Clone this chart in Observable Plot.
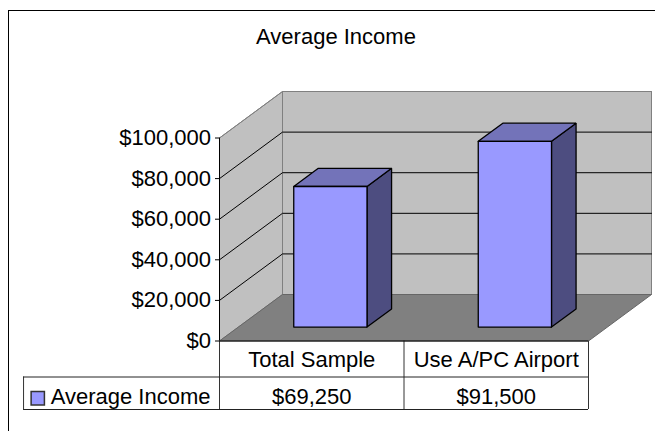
<!DOCTYPE html>
<html><head><meta charset="utf-8">
<script src="https://cdn.jsdelivr.net/npm/d3@7"></script>
<script src="https://cdn.jsdelivr.net/npm/@observablehq/plot@0.6"></script>
<style>
html,body{margin:0;padding:0;background:#fff;}
#wrap{position:relative;width:655px;height:431px;overflow:hidden;font-family:"Liberation Sans",Arial,sans-serif;}
#frame{position:absolute;left:8px;top:10px;width:660px;height:440px;border:1.5px solid #000;box-sizing:content-box;}
#title{position:absolute;left:0;width:672px;top:24px;text-align:center;font-size:22px;color:#000;}
svg{position:absolute;left:0;top:0;overflow:visible;}
</style></head><body>
<div id="wrap"><div id="frame"></div><div id="title">Average Income</div></div>
<script>
const chartTitle = "Average Income";
const categories = ["Total Sample", "Use A/PC Airport"];
const seriesName = "Average Income";
const values = [69250, 91500];
const valueLabels = ["$69,250", "$91,500"];
const yTicks = [0, 20000, 40000, 60000, 80000, 100000];

const depthX = 0.3415, depthY = 22900;      // oblique projection of the depth axis, in data units
const pxToValue = 100000 / 203;             // dollars per pixel below the axis
const project = (u, d, v) => ({x: u + d * depthX, y: v + d * depthY});
const poly = (id, corners) => [...corners, corners[0]].map(([u, d, v]) => ({id, ...project(u, d, v)}));

const nCat = categories.length;
const maxV = yTicks[yTicks.length - 1];
const leftWall = poly("l", [[0,0,0],[0,1,0],[0,1,maxV],[0,0,maxV]]);
const backWall = poly("b", [[0,1,0],[nCat,1,0],[nCat,1,maxV],[0,1,maxV]]);
const floor = poly("f", [[0,0,0],[nCat,0,0],[nCat,1,0],[0,1,0]]);
const grid = yTicks.slice(1).flatMap(v => [[0,0,v],[0,1,v],[nCat,1,v]].map(([u,d,w]) => ({id:v, ...project(u,d,w)})));

const d0 = 0.3, d1 = 0.69, w0 = 0.3, w1 = 0.697;
const fronts = values.flatMap((v,i) => poly("f"+i, [[i+w0,d0,0],[i+w1,d0,0],[i+w1,d0,v],[i+w0,d0,v]]));
const tops = values.flatMap((v,i) => poly("t"+i, [[i+w0,d0,v],[i+w1,d0,v],[i+w1,d1,v],[i+w0,d1,v]]));
const sides = values.flatMap((v,i) => poly("s"+i, [[i+w1,d0,0],[i+w1,d1,0],[i+w1,d1,v],[i+w1,d0,v]]));

const row1 = -36 * pxToValue, row2 = -68.5 * pxToValue;
const tableLeft = -1.062;
const face = (data, fill, stroke, sw=1) => Plot.line(data, {x:"x", y:"y", z:"id", fill, stroke, strokeWidth:sw, strokeLinejoin:"miter"});

const chart = Plot.plot({
  width: 655, height: 431,
  marginLeft: 219, marginRight: 67, marginTop: 137.5, marginBottom: 90.5,
  style: {fontFamily: '"Liberation Sans",Arial,sans-serif', background: "transparent"},
  x: {type: "linear", domain: [0, nCat], axis: null},
  y: {type: "linear", domain: [0, maxV], axis: null},
  marks: [
    face(backWall, "#c0c0c0", "#808080"),
    face(leftWall, "#c0c0c0", "#808080"),
    face(floor, "#808080", "#666"),
    Plot.line(grid, {x:"x", y:"y", z:"id", stroke: d => d.id === maxV ? "#808080" : "#000", strokeWidth:1}),
    face(sides, "#4d4d80", "#000", 1.3),
    face(tops, "#7373b9", "#000", 1.3),
    face(fronts, "#9999ff", "#000", 1.3),
    Plot.ruleX([0], {y1: 0, y2: maxV, stroke: "#000"}),
    Plot.ruleX([0, 1, 2], {y1: 0, y2: row2, stroke: "#333"}),
    Plot.ruleX([tableLeft], {y1: row1, y2: row2, stroke: "#333"}),
    Plot.ruleY([0], {x1: 0, x2: nCat, stroke: "#000"}),
    Plot.ruleY([row1, row2], {x1: tableLeft, x2: nCat, stroke: "#222"}),
    Plot.axisY({ticks: yTicks, tickSize: 4, tickPadding: 4.5, fontSize: 22, anchor: "left", color:"#000", tickFormat: d3.format("$,.0f"), label: null}),
    Plot.text(categories, {x: (d,i) => i + 0.5, y: () => row1 / 2, text: d => d, fontSize: 22, fill: "#000", dy: 1}),
    Plot.text(valueLabels, {x: (d,i) => i + 0.5, y: () => (row1 + row2) / 2, text: d => d, fontSize: 22, fill: "#000", dy: 4}),
    Plot.text([seriesName], {x: () => -0.915, y: () => (row1 + row2) / 2, text: d => d, fontSize: 22, textAnchor: "start", fill: "#000", dy: 4}),
    Plot.dot([seriesName], {x: () => -0.985, y: () => (row1 + row2) / 2, symbol: "square", r: 7.5, fill: "#9999ff", stroke: "#333", dy: 5})
  ]
});
document.getElementById("wrap").appendChild(chart);
document.getElementById("title").textContent = chartTitle;
</script>
</body></html>
